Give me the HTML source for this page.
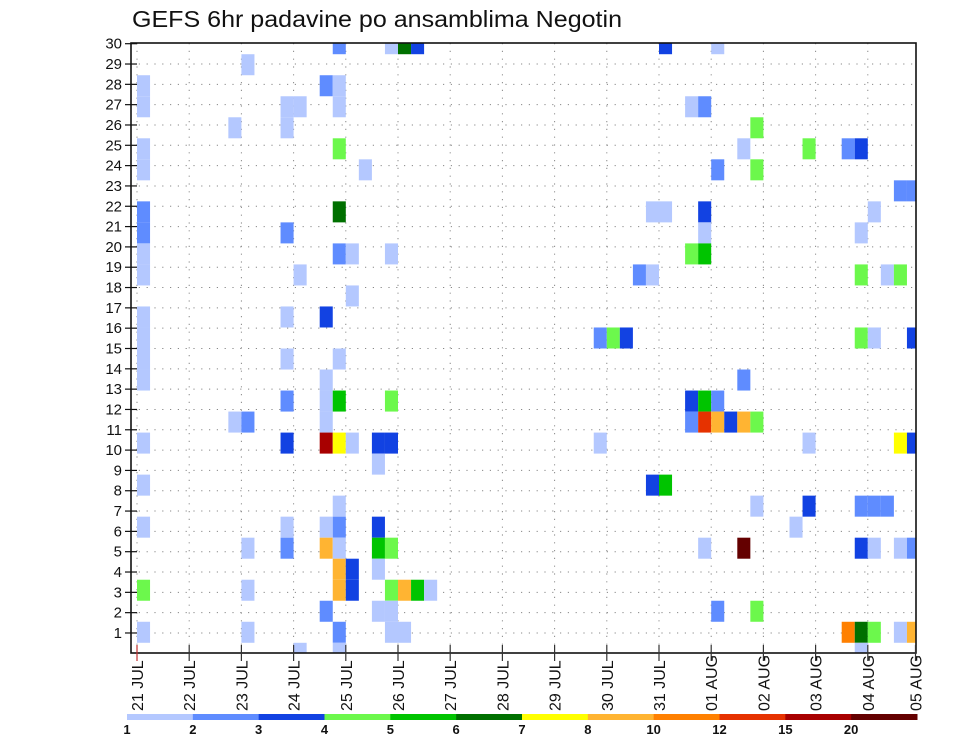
<!DOCTYPE html>
<html><head><meta charset="utf-8"><style>
html,body{margin:0;padding:0;background:#fff;}
svg{display:block;font-family:"Liberation Sans","DejaVu Sans",sans-serif;}
</style></head><body>
<svg id="chart" width="960" height="742" viewBox="0 0 960 742" xmlns="http://www.w3.org/2000/svg">
<defs><clipPath id="plotclip"><rect x="131" y="43" width="785" height="610"/></clipPath></defs>
<text x="132" y="27" font-size="23" textLength="490" lengthAdjust="spacingAndGlyphs" fill="#111">GEFS 6hr padavine po ansamblima Negotin</text>
<g id="grid"></g>
<g id="cells" clip-path="url(#plotclip)"></g>
<rect x="131" y="43" width="785" height="610" fill="none" stroke="#111" stroke-width="1.6"/>
<g id="yaxis"></g>
<g id="xaxis"></g>
<g id="legend"></g>
</svg>
<script>
// Data: 6-hour slot index (0 = 21 JUL 00Z), ensemble member, precip class
const slots   = [15,19,20,21,8,0,0,14,15,15,11,12,11,7,0,0,15,17,0,0,15,11,0,0,15,16,19,12,16,0,0,0,0,11,14,11,15,14,14,14,15,19,11,7,8,0,11,14,15,16,18,19,18,0,15,0,11,14,15,18,8,11,14,15,18,19,15,15,16,16,18,0,8,19,20,21,22,14,18,19,0,8,15,19,20,12,15,
 40,39,40,38,39,35,36,37,35,39,40,
 44,42,43,47,46,51,54,55,44,47,58,59,43,56,43,55,42,43,55,57,58,55,56,59,46,42,43,44,42,43,44,45,46,47,51,58,59,47,51,55,56,57,50,43,46,55,56,58,59,44,47,54,55,56,58,59,55];
const members = [30,30,30,30,29,28,27,28,28,27,27,27,26,26,25,24,25,24,22,21,22,21,20,19,20,20,20,19,18,17,16,15,14,17,17,15,15,14,13,12,13,13,13,12,12,11,11,11,11,11,11,11,10,9,8,7,7,7,7,7,6,6,6,6,6,6,5,4,5,4,5,4,4,4,4,4,4,3,3,3,2,2,2,2,2,1,1,
 30,22,22,19,19,16,16,16,11,9,9,
 30,27,27,26,25,25,25,25,24,24,23,23,22,22,21,21,20,20,19,19,19,16,16,16,14,13,13,13,12,12,12,12,12,12,11,11,11,8,8,8,8,8,7,6,6,6,6,6,6,3,3,2,2,2,2,2,1];
const classes = [1,0,5,2,0,0,0,1,0,0,0,0,0,0,0,0,3,0,1,1,5,1,0,0,1,0,0,0,0,0,0,0,0,0,2,0,0,0,0,0,4,3,1,0,1,0,2,10,6,0,2,2,0,0,0,0,0,0,1,2,0,1,7,0,4,3,7,7,2,2,0,3,0,3,7,4,0,1,0,0,0,0,1,0,0,0,0,
 2,0,0,1,0,1,3,2,0,2,4,
 0,0,1,3,0,3,1,2,1,3,1,1,2,0,0,0,3,4,3,0,3,3,0,2,1,2,4,1,1,9,7,2,7,3,0,6,2,0,2,1,1,1,0,0,11,2,0,0,1,1,3,8,5,3,0,7,0];
const classColors = ["#b4c8ff","#5f8cff","#1242e2","#6cf84c","#00c400","#007000","#ffff00","#ffb432","#ff8000","#e63200","#a80000","#640000"];
const legendLabels = ["1","2","3","4","5","6","7","8","10","12","15","20"];
const yTicks = [1,2,3,4,5,6,7,8,9,10,11,12,13,14,15,16,17,18,19,20,21,22,23,24,25,26,27,28,29,30];
const dayLabels = ["21 JUL","22 JUL","23 JUL","24 JUL","25 JUL","26 JUL","27 JUL","28 JUL","29 JUL","30 JUL","31 JUL","01 AUG","02 AUG","03 AUG","04 AUG","05 AUG"];

const NS="http://www.w3.org/2000/svg";
const X0=137, DAY=52.2, SLOT=DAY/4;
const xDay = d => X0 + d*DAY;
const xSlot = i => X0 + i*SLOT;
const yTick = v => 653.3 - v*20.32;           // axis label scale
const CELLH = 609.6/29;
const yCell = m => 653.3 - (m-1)*CELLH;       // member cell-centre scale
function mk(tag, attrs, parent){const e=document.createElementNS(NS,tag);for(const k in attrs)e.setAttribute(k,attrs[k]);parent.appendChild(e);return e;}

const grid=document.getElementById('grid');
yTicks.forEach(v=>{ if(v<30){
  const l=mk('line',{x1:131,x2:916,y1:yTick(v),y2:yTick(v),stroke:'#888','stroke-width':1,'stroke-dasharray':'1.2 6.6'},grid);
  
  
}});
dayLabels.forEach((s,d)=>{ const x=xDay(d); if(x<915){
  const l=mk('line',{x1:x,x2:x,y1:43,y2:653,stroke:'#888','stroke-width':1,'stroke-dasharray':'1.2 6.6'},grid);
  
  
}});

const cells=document.getElementById('cells');
slots.forEach((s,k)=>{
  const r=mk('rect',{x:xSlot(s),y:yCell(members[k])-CELLH/2,width:SLOT,height:CELLH,fill:classColors[classes[k]]},cells);
  
  
});

const ya=document.getElementById('yaxis');
yTicks.forEach(v=>{
  const t=mk('line',{x1:125,x2:137,y1:yTick(v),y2:yTick(v),stroke:'#111','stroke-width':1.2},ya);
  
  
  const tx=mk('text',{x:122,y:yTick(v)+5,'font-size':15,'text-anchor':'end',fill:'#111'},ya);
  tx.textContent=String(v);
  
  
});

const xa=document.getElementById('xaxis');
dayLabels.forEach((s,d)=>{
  const x=Math.min(xDay(d),915.5);
  const t=mk('line',{x1:x,x2:x,y1:645,y2:661,stroke:d===0?'#c03030':'#333','stroke-width':1.2},xa);
  
  
  const tx=mk('text',{x:0,y:0,'font-size':16,fill:'#111',transform:`translate(${x+6},711) rotate(-90)`},xa);
  tx.textContent=s;
  
  
});

const lg=document.getElementById('legend');
const LX=127, LW=790/classColors.length;
classColors.forEach((c,k)=>{
  const r=mk('rect',{x:LX+k*LW,y:714,width:LW+0.5,height:6,fill:c},lg);
  
  
  const tx=mk('text',{x:LX+k*LW,y:734,'font-size':13,'font-weight':'bold','text-anchor':'middle',fill:'#111'},lg);
  tx.textContent=legendLabels[k];
  
  
});
</script>
</body></html>
